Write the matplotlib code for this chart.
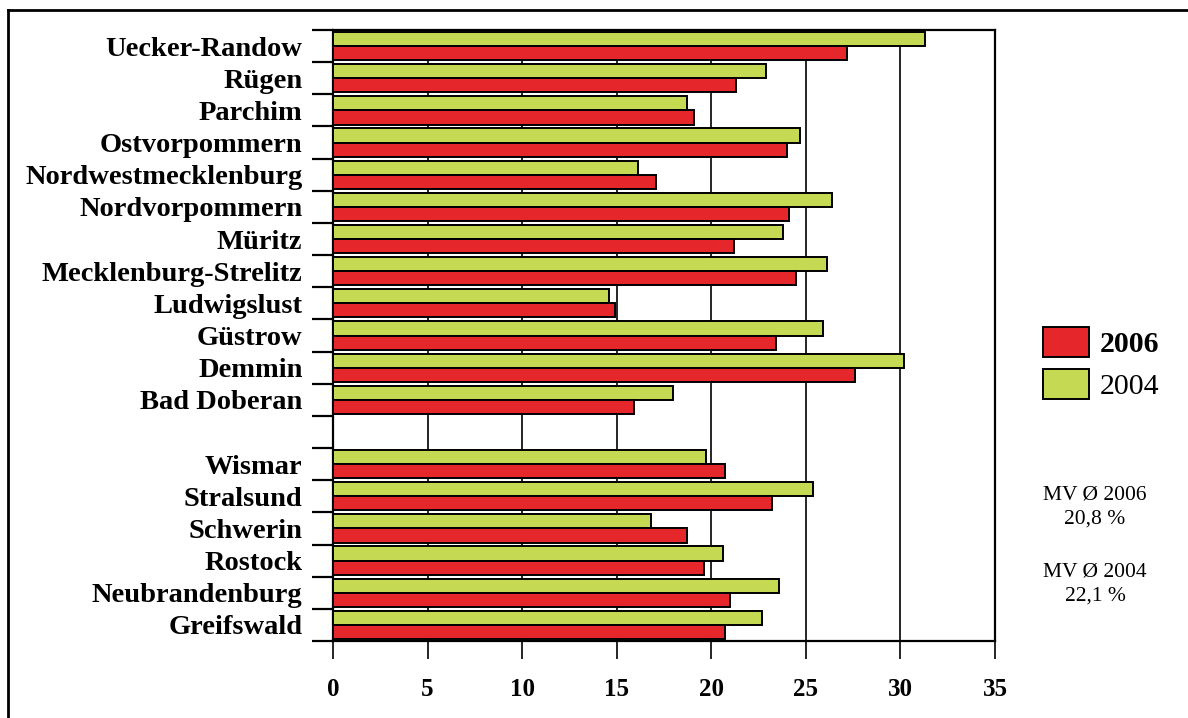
import numpy as np
import matplotlib
matplotlib.use("Agg")
import matplotlib.pyplot as plt
from matplotlib.patches import Patch
from matplotlib.lines import Line2D

# Landkreise and kreisfreie Städte, top to bottom; None marks the gap row
regions = ["Uecker-Randow", "Rügen", "Parchim", "Ostvorpommern",
           "Nordwestmecklenburg", "Nordvorpommern", "Müritz",
           "Mecklenburg-Strelitz", "Ludwigslust", "Güstrow", "Demmin",
           "Bad Doberan", None, "Wismar", "Stralsund", "Schwerin",
           "Rostock", "Neubrandenburg", "Greifswald"]
vals_2004 = [31.3, 22.9, 18.7, 24.7, 16.1, 26.4, 23.8, 26.1, 14.6, 25.9,
             30.2, 18.0, None, 19.7, 25.4, 16.8, 20.6, 23.6, 22.7]
vals_2006 = [27.2, 21.3, 19.1, 24.0, 17.1, 24.1, 21.2, 24.5, 14.9, 23.4,
             27.6, 15.9, None, 20.7, 23.2, 18.7, 19.6, 21.0, 20.7]
mv_avg_2006 = "20,8 %"
mv_avg_2004 = "22,1 %"

RED = "#e5262b"
GREEN = "#c6d952"
plt.rcParams["font.family"] = ["Liberation Serif", "DejaVu Serif"]

fig = plt.figure(figsize=(11.88, 7.18), dpi=100)
ax = fig.add_axes([333 / 1188, 1 - 641 / 718, (995 - 333) / 1188, (641 - 30) / 718])

idx = [i for i, r in enumerate(regions) if r is not None]
y = np.array(idx, dtype=float)
g = [vals_2004[i] for i in idx]
r = [vals_2006[i] for i in idx]
h = 0.44
ax.barh(y - h / 2, g, height=h, color=GREEN, edgecolor="black", linewidth=1.4, zorder=3)
ax.barh(y + h / 2, r, height=h, color=RED, edgecolor="black", linewidth=1.4, zorder=3)

ax.set_xlim(0, 35)
ax.set_ylim(len(regions) - 0.5, -0.5)
ax.set_xticks(np.arange(0, 36, 5))
ax.xaxis.grid(True, color="black", linewidth=1.2, zorder=0)
ax.set_axisbelow(True)

ax.set_yticks(y)
ax.set_yticklabels([regions[i] for i in idx], fontsize=20.5, fontweight="bold")
ax.set_yticks(np.arange(-0.5, len(regions)), minor=True)
ax.tick_params(axis="y", which="major", length=0, pad=22)
ax.tick_params(axis="y", which="minor", length=15, width=1.6, direction="out")
ax.tick_params(axis="x", length=13, width=1.2, pad=14, labelsize=18)
for t in ax.get_xticklabels():
    t.set_fontweight("bold")
for s in ax.spines.values():
    s.set_linewidth(1.6)

# legend: 2006 bold, 2004 regular
handles = [Patch(facecolor=RED, edgecolor="black", linewidth=1.4),
           Patch(facecolor=GREEN, edgecolor="black", linewidth=1.4)]
leg = fig.legend(handles, ["2006", "2004"], loc="upper left",
                 bbox_to_anchor=(1043 / 1188, 1 - 327 / 718), frameon=False,
                 fontsize=21.5, handlelength=1.55, handleheight=1.15,
                 labelspacing=0.38, handletextpad=0.35, borderpad=0,
                 borderaxespad=0)
leg.get_texts()[0].set_fontweight("bold")

fig.text(1095 / 1188, 1 - 507 / 718, "MV Ø 2006\n" + mv_avg_2006, ha="center",
         va="center", fontsize=15.5, linespacing=1.35)
fig.text(1095 / 1188, 1 - 584 / 718, "MV Ø 2004\n" + mv_avg_2004, ha="center",
         va="center", fontsize=15.5, linespacing=1.35)

# page frame along top and left edge
fig.add_artist(Line2D([8 / 1188, 8 / 1188], [0, 1 - 10 / 718], color="black", linewidth=2))
fig.add_artist(Line2D([8 / 1188, 1], [1 - 10 / 718, 1 - 10 / 718], color="black", linewidth=2))

fig.savefig("out.png", dpi=100)
